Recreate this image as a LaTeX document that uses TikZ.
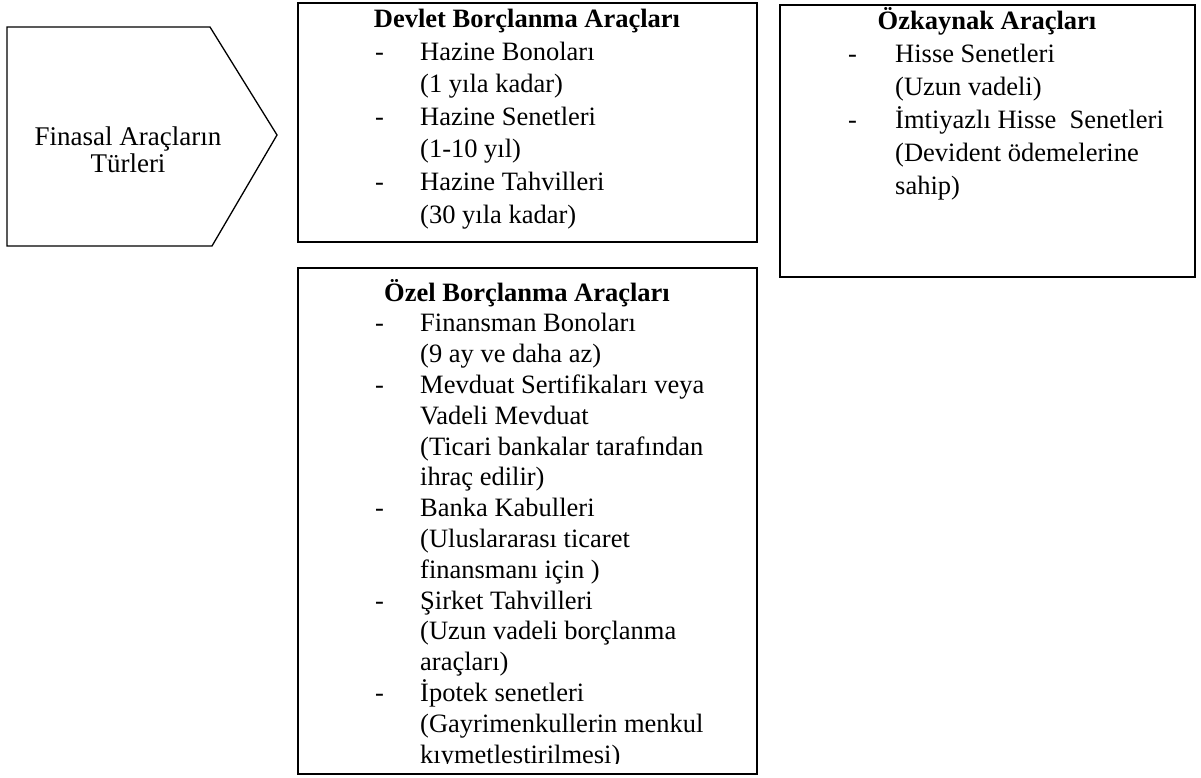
\documentclass[tikz,border=0pt]{standalone}
\usepackage{fontspec}
\setmainfont{Liberation Serif}
\tikzset{
  frame/.style={draw=black, line width=1.6pt},
  txt/.style={anchor=base west, inner sep=0pt, font=\fontsize{26.5}{30}\selectfont},
  ttl/.style={anchor=base, inner sep=0pt, font=\fontsize{26.5}{30}\selectfont\bfseries},
  big/.style={anchor=base, inner sep=0pt, font=\fontsize{27}{30}\selectfont}
}
\begin{document}
\begin{tikzpicture}[x=1pt,y=-1pt]
\useasboundingbox (0,0) rectangle (1201,778);
% pentagon
\draw[line width=1.3pt] (7,27) -- (210,27) -- (277,135) -- (212,246) -- (7,246) -- cycle;
\node[big] (t1) at (128,146) {Finasal Araçların};
\node[big] (t2) at (128,172) {Türleri};
% Devlet box
\draw[frame] (298,3) rectangle (757,242);
\node[ttl] (dvt) at (527,28) {Devlet Borçlanma Araçları};
\node[txt] (dd1) at (375,60.5) {-};
\node[txt] (dv1) at (420,60.5) {Hazine Bonoları};
\node[txt] (dv2) at (420,93) {(1 yıla kadar)};
\node[txt] (dd2) at (375,125.5) {-};
\node[txt] (dv3) at (420,125.5) {Hazine Senetleri};
\node[txt] (dv4) at (420,158) {(1-10 yıl)};
\node[txt] (dd3) at (375,190.5) {-};
\node[txt] (dv5) at (420,190.5) {Hazine Tahvilleri};
\node[txt] (dv6) at (420,223) {(30 yıla kadar)};
% Ozkaynak box
\draw[frame] (780,5) rectangle (1195,277);
\node[ttl] (okt) at (987,30) {Özkaynak Araçları};
\node[txt] (od1) at (848,62.8) {-};
\node[txt] (ok1) at (895,62.8) {Hisse Senetleri};
\node[txt] (ok2) at (895,95.6) {(Uzun vadeli)};
\node[txt] (od2) at (848,128.4) {-};
\node[txt] (ok3) at (895,128.4) {İmtiyazlı Hisse\ \ Senetleri};
\node[txt] (ok4) at (895,161.2) {(Devident ödemelerine};
\node[txt] (ok5) at (895,194) {sahip)};
% Ozel box
\draw[frame] (298,268) rectangle (757,774);
\node[ttl] (ozt) at (527,301) {Özel Borçlanma Araçları};
\node[txt] (zd1) at (375,331.8) {-};
\node[txt] (oz1) at (420,331.8) {Finansman Bonoları};
\node[txt] (oz2) at (420,362.6) {(9 ay ve daha az)};
\node[txt] (zd2) at (375,393.4) {-};
\node[txt] (oz3) at (420,393.4) {Mevduat Sertifikaları veya};
\node[txt] (oz4) at (420,424.2) {Vadeli Mevduat};
\node[txt] (oz5) at (420,455) {(Ticari bankalar tarafından};
\node[txt] (oz6) at (420,485.8) {ihraç edilir)};
\node[txt] (zd3) at (375,516.6) {-};
\node[txt] (oz7) at (420,516.6) {Banka Kabulleri};
\node[txt] (oz8) at (420,547.4) {(Uluslararası ticaret};
\node[txt] (oz9) at (420,578.2) {finansmanı için )};
\node[txt] (zd4) at (375,609) {-};
\node[txt] (oz10) at (420,609) {Şirket Tahvilleri};
\node[txt] (oz11) at (420,639.8) {(Uzun vadeli borçlanma};
\node[txt] (oz12) at (420,670.6) {araçları)};
\node[txt] (zd5) at (375,701.4) {-};
\node[txt] (oz13) at (420,701.4) {İpotek senetleri};
\node[txt] (oz14) at (420,732.2) {(Gayrimenkullerin menkul};
\begin{scope}
\clip (298,268) rectangle (757,763);
\node[txt] (oz15) at (420,763) {kıymetlestirilmesi)};
\end{scope}
\end{tikzpicture}
\end{document}
